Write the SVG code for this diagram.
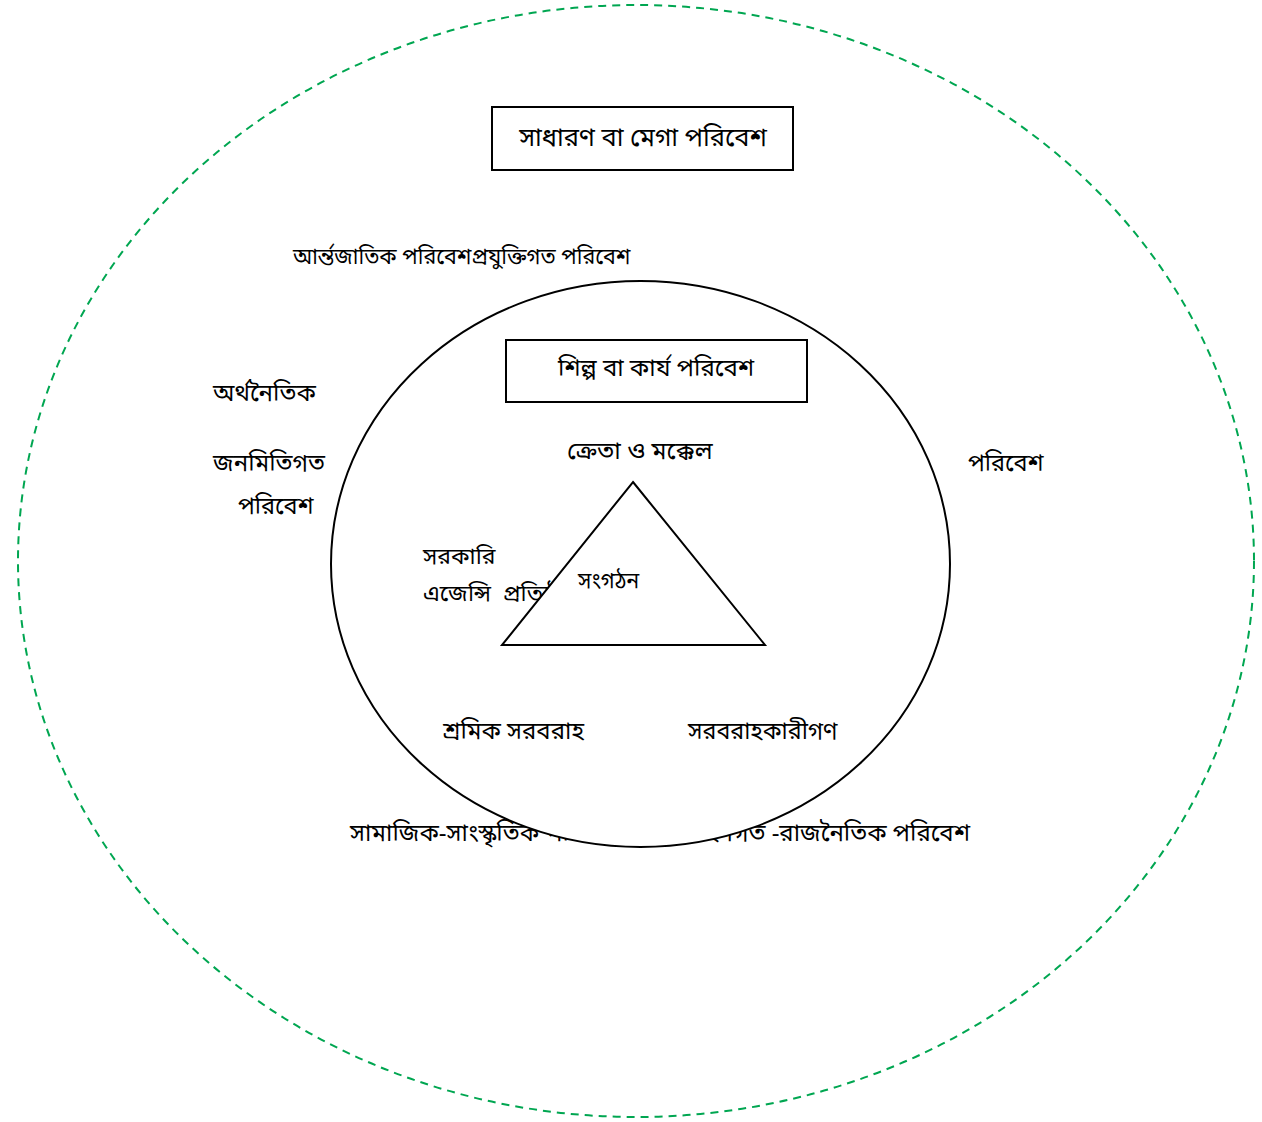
<svg xmlns="http://www.w3.org/2000/svg" width="1262" height="1122" viewBox="0 0 1262 1122">
<style>
text{font-family:"Noto Sans","Noto Sans Bengali","DejaVu Sans",sans-serif;font-size:24px;fill:#000}
.sm{font-size:21.5px}
.box{fill:#fff;stroke:#000;stroke-width:2}
</style>
<rect width="1262" height="1122" fill="#fff"/>
<g id="outer-env">
<ellipse cx="636" cy="561" rx="618" ry="556" fill="none" stroke="#00A651" stroke-width="2" stroke-dasharray="8,6"/>
</g>
<g id="mega-env">
<rect class="box" x="492" y="107" width="301" height="63"/>
<text x="643" y="146" text-anchor="middle" style="font-size:25.5px">সাধারণ বা মেগা পরিবেশ</text>
</g>
<g id="outer-labels">
<text x="293" y="264" style="font-size:21.5px">আর্ন্তজাতিক পরিবেশপ্রযুক্তিগত পরিবেশ</text>
<text x="213" y="401">অর্থনৈতিক</text>
<text x="213" y="471">জনমিতিগত</text>
<text x="238" y="514" style="font-size:23.5px">পরিবেশ</text>
<text x="968" y="471" style="font-size:23.5px">পরিবেশ</text>
<text x="350" y="841">সামাজিক-সাংস্কৃতিক পরিবেশ</text>
<text x="970" y="841" text-anchor="end">আইনগত -রাজনৈতিক পরিবেশ</text>
</g>
<g id="industry-env">
<ellipse cx="640.5" cy="564" rx="309.5" ry="283" fill="#fff" stroke="#000" stroke-width="2"/>
<rect class="box" x="506" y="340" width="301" height="62"/>
<text x="656" y="376" text-anchor="middle">শিল্প বা কার্য পরিবেশ</text>
</g>
<g id="inner-labels">
<text x="567" y="459" style="font-size:24.5px">ক্রেতা ও মক্কেল</text>
<text x="423" y="564" style="font-size:23px">সরকারি</text>
<text x="423" y="601" style="font-size:23px" xml:space="preserve">এজেন্সি  প্রতিষ্ঠান</text>
<text x="443" y="739">শ্রমিক সরবরাহ</text>
<text x="688" y="739" style="font-size:23.3px">সরবরাহকারীগণ</text>
</g>
<g id="organization">
<polygon points="633,482 765,645 502,645" fill="#fff" stroke="#000" stroke-width="2"/>
<text class="sm" x="578" y="588">সংগঠন</text>
</g>
<g id="connectors"></g>
</svg>
